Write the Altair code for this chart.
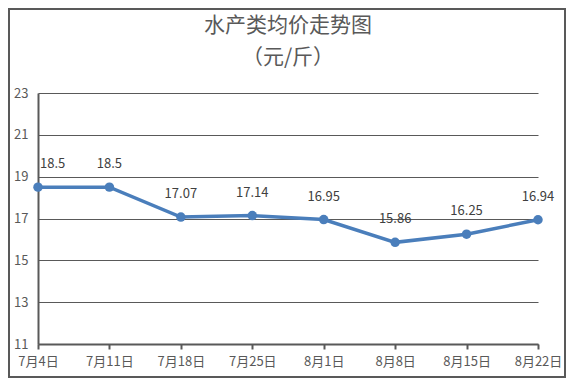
import altair as alt
import pandas as pd

dates = ["7月4日", "7月11日", "7月18日", "7月25日", "8月1日", "8月8日", "8月15日", "8月22日"]
prices = [18.5, 18.5, 17.07, 17.14, 16.95, 15.86, 16.25, 16.94]
labels = ["18.5", "18.5", "17.07", "17.14", "16.95", "15.86", "16.25", "16.94"]
y_ticks = [11, 13, 15, 17, 19, 21, 23]
title_lines = ["水产类均价走势图", "（元/斤）"]

df = pd.DataFrame({"date": dates, "price": prices, "label": labels})

FONT = "Noto Sans CJK SC"
GRAY = "#595959"
BLUE = "#4a7ebb"

x = alt.X("date:N", sort=dates, scale=alt.Scale(type="point", padding=0),
          axis=alt.Axis(title=None, labelAngle=0, labelFontSize=13, labelColor=GRAY,
                        labelFont=FONT, domainColor=GRAY, domainWidth=2,
                        tickColor=GRAY, tickWidth=2, tickSize=5, labelPadding=6,
                        grid=False))
y = alt.Y("price:Q", scale=alt.Scale(domain=[11, 23], nice=False, zero=False),
          axis=alt.Axis(title=None, values=y_ticks, labelFontSize=13, labelColor=GRAY,
                        labelFont=FONT, domainColor=GRAY, domainWidth=2, ticks=False,
                        labelPadding=10, gridColor=GRAY, gridWidth=1, gridOpacity=1))

base = alt.Chart(df)

line = base.mark_line(color=BLUE, strokeWidth=3.5).encode(x=x, y=y)
pts = base.mark_point(filled=True, color=BLUE, size=90, opacity=1).encode(x=x, y=y)

txt_first = base.transform_filter(alt.datum.date == dates[0]).mark_text(
    align="left", baseline="middle", dy=-23, dx=2, fontSize=13, color="#404040", font=FONT
).encode(x=x, y=y, text="label:N")
txt_rest = base.transform_filter(alt.datum.date != dates[0]).mark_text(
    align="center", baseline="middle", dy=-23, fontSize=13, color="#404040", font=FONT
).encode(x=x, y=y, text="label:N")

tdf = pd.DataFrame({"t": title_lines, "i": [0, 1]})
title1 = alt.Chart(tdf).transform_filter(alt.datum.i == 0).mark_text(
    fontSize=21, color=GRAY, font=FONT, align="center", baseline="middle"
).encode(text="t:N", x=alt.value(250), y=alt.value(-67))
title2 = alt.Chart(tdf).transform_filter(alt.datum.i == 1).mark_text(
    fontSize=21, color=GRAY, font=FONT, align="center", baseline="middle"
).encode(text="t:N", x=alt.value(250), y=alt.value(-35))

border = alt.Chart(tdf).transform_filter(alt.datum.i == 0).mark_rect(
    fill=None, stroke=GRAY, strokeWidth=2
).encode(x=alt.value(-29), x2=alt.value(527), y=alt.value(-84), y2=alt.value(284))

chart = alt.layer(border, line, pts, txt_first, txt_rest, title1, title2).properties(
    width=500, height=251,
    autosize=alt.AutoSizeParams(type="none"),
    padding={"left": 30, "top": 85, "right": 28, "bottom": 34},
    background="white",
).configure_view(stroke=None)

chart.save("out.html", embed_options={"renderer": "svg", "actions": False})
